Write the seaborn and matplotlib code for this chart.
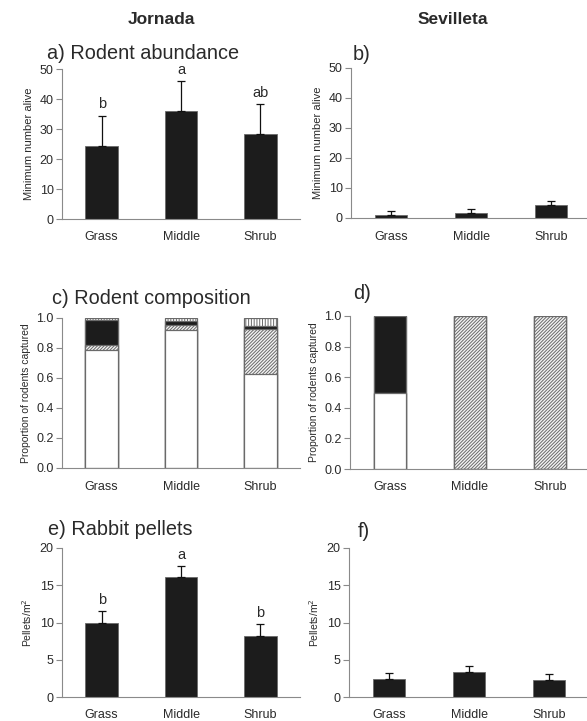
import numpy as np
import pandas as pd
import matplotlib
matplotlib.use("Agg")
import matplotlib.pyplot as plt
import seaborn as sns

categories = ["Grass", "Middle", "Shrub"]

jor_abund = [24.5, 36.0, 28.2]
jor_abund_se = [10.0, 10.0, 10.0]
jor_abund_letters = ["b", "a", "ab"]
sev_abund = [1.0, 1.6, 4.3]
sev_abund_se = [1.3, 1.4, 1.3]

jor_comp_white = [0.79, 0.92, 0.625]
jor_comp_hatch = [0.03, 0.035, 0.30]
jor_comp_black = [0.165, 0.025, 0.025]
jor_comp_vstripe = [0.015, 0.02, 0.05]
sev_comp_white = [0.5, 0.0, 0.0]
sev_comp_hatch = [0.0, 1.0, 1.0]
sev_comp_black = [0.5, 0.0, 0.0]
sev_comp_vstripe = [0.0, 0.0, 0.0]

jor_pellets = [9.9, 16.1, 8.2]
jor_pellets_se = [1.6, 1.5, 1.6]
jor_pellets_letters = ["b", "a", "b"]
sev_pellets = [2.4, 3.3, 2.3]
sev_pellets_se = [0.8, 0.8, 0.8]

sns.set_style("white")
plt.rcParams["font.family"] = ["Liberation Sans", "DejaVu Sans"]
plt.rcParams["hatch.color"] = "#6a6a6a"
plt.rcParams["hatch.linewidth"] = 0.7

TXT = "#2a2a2a"
SPINE = "#8a8a8a"
BAR = "#1c1c1c"
EDGE = "#6a6a6a"
W = 0.41

fig = plt.figure(figsize=(5.87, 7.21), dpi=100)
H = 721.0
Wd = 587.0


def axes_px(left, right, top, bottom):
    return fig.add_axes([left / Wd, 1 - bottom / H, (right - left) / Wd, (bottom - top) / H])


def style(ax, ymax, ystep, ylabel, fmt="{:.0f}", ylsize=7.5):
    ax.set_xlim(-0.5, 2.5)
    ax.set_ylim(0, ymax)
    for s in ["top", "right"]:
        ax.spines[s].set_visible(False)
    for s in ["left", "bottom"]:
        ax.spines[s].set_color(SPINE)
        ax.spines[s].set_linewidth(0.8)
    ticks = np.arange(0, ymax + ystep / 2, ystep)
    ax.set_yticks(ticks)
    ax.set_yticklabels([fmt.format(t) for t in ticks], color=TXT, fontsize=9)
    ax.set_xticks([0, 1, 2])
    ax.set_xticklabels(categories, color=TXT, fontsize=9)
    ax.set_xticks([0.5, 1.5], minor=True)
    ax.tick_params(axis="x", which="major", length=0, pad=9)
    ax.tick_params(axis="x", which="minor", length=4, color=SPINE, width=0.8, direction="out")
    ax.tick_params(axis="y", length=4, color=SPINE, width=0.8, direction="out", pad=2, left=True)
    ax.set_xlabel("")
    ax.set_ylabel(ylabel, fontsize=ylsize, color=TXT, labelpad=4)


def simple_bars(ax, vals, errs, ymax, ystep, ylabel, letters=None, ylsize=7.5):
    df = pd.DataFrame({"cat": categories, "val": vals})
    sns.barplot(data=df, x="cat", y="val", ax=ax, color=BAR, saturation=1,
                edgecolor=EDGE, linewidth=0.6, width=W, errorbar=None)
    x = np.arange(len(categories))
    ax.errorbar(x, vals, yerr=[np.zeros(len(vals)), errs], fmt="none",
                ecolor="#111111", elinewidth=0.9, capsize=3, capthick=0.9)
    if letters:
        for xi, v, e, l in zip(x, vals, errs, letters):
            ax.text(xi, v + e + 0.075 * ymax, l, ha="center", va="center",
                    fontsize=10.5, color=TXT)
    style(ax, ymax, ystep, ylabel, ylsize=ylsize)


def stacked(ax, white, hatch, black, vstripe):
    w = np.array(white)
    h = np.array(hatch)
    b = np.array(black)
    v = np.array(vstripe)
    layers = [
        (w + h + b + v, dict(color="white", hatch="||||||")),
        (w + h + b, dict(color=BAR)),
        (w + h, dict(color="#f4f4f4", hatch="//////////")),
        (w, dict(color="white")),
    ]
    for cum, kw in layers:
        df = pd.DataFrame({"cat": categories, "val": cum})
        sns.barplot(data=df, x="cat", y="val", ax=ax, saturation=1,
                    edgecolor=EDGE, linewidth=0.9, width=W, errorbar=None, **kw)
    style(ax, 1.0, 0.2, "Proportion of rodents captured", fmt="{:.1f}")


ax_a = axes_px(62, 300, 69, 219)
simple_bars(ax_a, jor_abund, jor_abund_se, 50, 10, "Minimum number alive", jor_abund_letters, ylsize=8)
ax_b = axes_px(351, 591, 68, 218)
simple_bars(ax_b, sev_abund, sev_abund_se, 50, 10, "Minimum number alive", ylsize=8)

ax_c = axes_px(62, 300, 318, 468)
stacked(ax_c, jor_comp_white, jor_comp_hatch, jor_comp_black, jor_comp_vstripe)
ax_d = axes_px(350, 590, 316, 469)
stacked(ax_d, sev_comp_white, sev_comp_hatch, sev_comp_black, sev_comp_vstripe)

ax_e = axes_px(62, 300, 548, 697)
simple_bars(ax_e, jor_pellets, jor_pellets_se, 20, 5, "Pellets/m$^2$", jor_pellets_letters)
ax_f = axes_px(349, 589, 548, 697)
simple_bars(ax_f, sev_pellets, sev_pellets_se, 20, 5, "Pellets/m$^2$")


def ftext(x, y, s, **kw):
    fig.text(x / Wd, 1 - y / H, s, color=TXT, va="baseline", **kw)


ftext(161, 24, "Jornada", ha="center", fontsize=12.5, fontweight="bold")
ftext(453, 24, "Sevilleta", ha="center", fontsize=12.5, fontweight="bold")
ftext(47, 59, "a) Rodent abundance", ha="left", fontsize=14.3)
ftext(353, 60, "b)", ha="left", fontsize=14.3)
ftext(52, 304, "c) Rodent composition", ha="left", fontsize=14.3)
ftext(353, 299, "d)", ha="left", fontsize=14.3)
ftext(48, 535, "e) Rabbit pellets", ha="left", fontsize=14.3)
ftext(358, 537, "f)", ha="left", fontsize=14.3)

fig.savefig("out.png", dpi=100)
